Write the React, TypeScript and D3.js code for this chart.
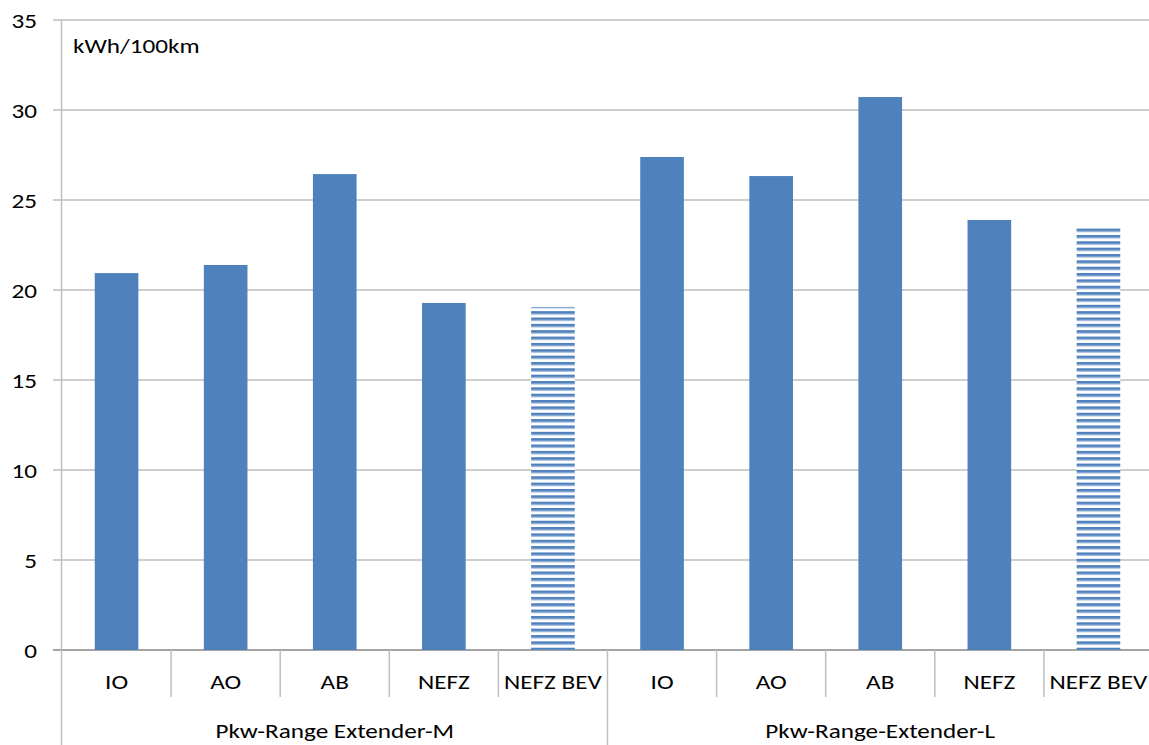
import React from "react";
import * as d3 from "d3";

const groups = ["Pkw-Range Extender-M", "Pkw-Range-Extender-L"];
const categories = ["IO", "AO", "AB", "NEFZ", "NEFZ BEV"];
const valuesM = [20.94, 21.39, 26.44, 19.28, 19.06];
const valuesL = [27.39, 26.33, 30.72, 23.89, 23.44];
const yTicks = [0, 5, 10, 15, 20, 25, 30, 35];
const unitLabel = "kWh/100km";

const W = 1149, H = 745;
const left = 62, right = 1153, top = 20, bottom = 650;
const font = "Carlito, Calibri, Lato, 'Open Sans', sans-serif";
const SX = 1.26;

function T({ x, y, anchor = "start", children }: { x: number; y: number; anchor?: string; children: React.ReactNode }) {
  return (
    <text transform={`translate(${x},${y}) scale(${SX},1)`} textAnchor={anchor} fontFamily={font} fontSize={20} fontWeight={300} fill="#000">
      {children}
    </text>
  );
}

export default function App() {
  const items = groups.flatMap((g, gi) =>
    categories.map((c, ci) => ({
      key: `${gi}-${ci}`,
      cat: c,
      group: g,
      value: gi === 0 ? valuesM[ci] : valuesL[ci],
      striped: c === "NEFZ BEV",
    }))
  );
  const x = d3.scaleBand<string>().domain(items.map(d => d.key)).range([left, right]).paddingInner(0.6).paddingOuter(0.3);
  const xb = d3.scaleBand<string>().domain(items.map(d => d.key)).range([left, right]).padding(0);
  const y = d3.scaleLinear().domain([0, 35]).range([bottom, top]);
  const step = xb.step();

  return (
    <svg width={W} height={H} style={{ position: "absolute", left: 0, top: 0, background: "#fff" }}>
      <defs>
        <pattern id="stripes" patternUnits="userSpaceOnUse" width={10} height={6.35}>
          <rect x={0} y={0} width={10} height={6.35} fill="#ffffff" />
          <rect x={0} y={0} width={10} height={2.6} fill="#4f81bd" />
          <rect x={0} y={2.6} width={10} height={1.1} fill="#a9c1df" />
        </pattern>
      </defs>
      {yTicks.map(t => (
        <g key={t}>
          <line x1={53} x2={W} y1={y(t)} y2={y(t)} stroke={t === 0 ? "#868686" : "#bebebe"} strokeWidth={1.3} />
          <T x={37} y={y(t) + 7.5} anchor="end">{t}</T>
        </g>
      ))}
      <line x1={left - 0.5} x2={left - 0.5} y1={top} y2={H} stroke="#bebebe" strokeWidth={1.5} />
      <T x={73} y={53}>{unitLabel}</T>
      {items.map(d => (
        <rect key={d.key} x={x(d.key)} y={y(d.value)} width={x.bandwidth()} height={bottom - y(d.value)}
          fill={d.striped ? "url(#stripes)" : "#4f81bd"} />
      ))}
      {items.map((d, i) => i > 0 ? (
        <line key={"s" + d.key} x1={xb(d.key)!} x2={xb(d.key)!} y1={bottom} y2={i % categories.length === 0 ? H : 697}
          stroke="#bebebe" strokeWidth={1.5} />
      ) : null)}
      {items.map(d => (
        <T key={"t" + d.key} x={xb(d.key)! + step / 2} y={689} anchor="middle">{d.cat}</T>
      ))}
      {groups.map((g, gi) => {
        const start = xb(`${gi}-0`)!;
        const cx = start + (step * categories.length) / 2;
        return <T key={g} x={cx} y={738} anchor="middle">{g}</T>;
      })}
    </svg>
  );
}
